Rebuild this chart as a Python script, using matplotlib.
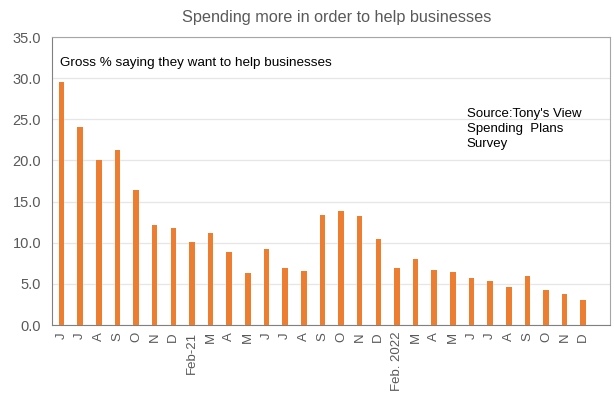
import matplotlib.pyplot as plt

plt.rcParams['font.family'] = ['Liberation Sans', 'DejaVu Sans']

# monthly survey readings, Jun 2020 .. Dec 2022 (no January readings)
months = ['J', 'J', 'A', 'S', 'O', 'N', 'D',
          'Feb-21', 'M', 'A', 'M', 'J', 'J', 'A', 'S', 'O', 'N', 'D',
          'Feb. 2022', 'M', 'A', 'M', 'J', 'J', 'A', 'S', 'O', 'N', 'D']
gross_pct = [29.5, 24.1, 20.0, 21.3, 16.4, 12.2, 11.8,
             10.1, 11.2, 8.9, 6.3, 9.3, 6.9, 6.6, 13.4, 13.8, 13.3, 10.4,
             6.9, 8.0, 6.7, 6.4, 5.7, 5.4, 4.6, 6.0, 4.3, 3.8, 3.1]
yticks = [0, 5, 10, 15, 20, 25, 30, 35]

orange = '#ED7D31'
grey = '#595959'

fig = plt.figure(figsize=(6.14, 3.94), dpi=100)
ax = fig.add_axes([0.085, 0.175, 0.909, 0.731])

x = range(len(months))
ax.bar(x, gross_pct, width=0.3, color=orange, zorder=3)

ax.set_ylim(0, 35)
ax.set_xlim(-0.5, len(months) + 0.45)
ax.set_yticks(yticks)
ax.set_yticklabels([f'{v:.1f}' for v in yticks], color=grey, fontsize=10.5)
ax.set_xticks(list(x))
ax.set_xticklabels(months, rotation=90, color=grey, fontsize=9.5)
ax.tick_params(axis='y', length=0, pad=8)
ax.tick_params(axis='x', length=0, pad=5)
ax.yaxis.grid(True, color='#e6e6e6', linewidth=0.9, zorder=0)

for side in ['left', 'bottom']:
    ax.spines[side].set_color('#808080')
for side in ['top', 'right']:
    ax.spines[side].set_color('#a6a6a6')

fig.text(0.548, 0.955, 'Spending more in order to help businesses',
         ha='center', va='center', color=grey, fontsize=11.7)
ax.text(0.014, 0.91, 'Gross % saying they want to help businesses',
        transform=ax.transAxes, ha='left', va='center', fontsize=9.7, color='black')
ax.text(0.743, 0.755, "Source:Tony's View\nSpending  Plans\nSurvey",
        transform=ax.transAxes, ha='left', va='top', fontsize=9.5,
        color='black', linespacing=1.38)

fig.savefig('out.png', dpi=100)
